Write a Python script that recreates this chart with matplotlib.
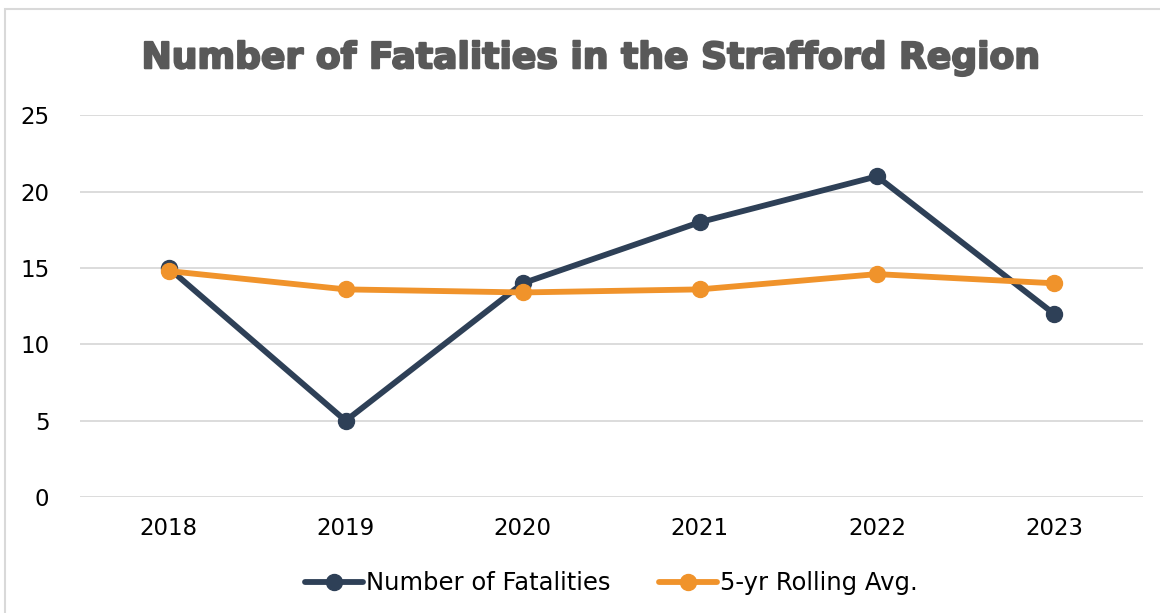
import matplotlib.pyplot as plt
from matplotlib.patches import Rectangle
import matplotlib.patheffects as pe

years = ['2018', '2019', '2020', '2021', '2022', '2023']
fatalities = [15, 5, 14, 18, 21, 12]
rolling_avg = [14.8, 13.6, 13.4, 13.6, 14.6, 14.0]

navy = '#2e4057'
orange = '#f0932b'

fig = plt.figure(figsize=(11.6, 6.13), dpi=100)
ax = fig.add_axes([0.069, 0.189, 0.916, 0.623])

x = range(len(years))
ax.plot(x, fatalities, color=navy, lw=4.2, marker='o', ms=11.5,
        label='Number of Fatalities', solid_capstyle='round')
ax.plot(x, rolling_avg, color=orange, lw=4.2, marker='o', ms=11.5,
        label='5-yr Rolling Avg.', solid_capstyle='round')

ax.set_xlim(-0.5, 5.5)
ax.set_ylim(0, 25)
ax.set_yticks([0, 5, 10, 15, 20, 25])
ax.set_xticks(list(x))
ax.set_xticklabels(years)
ax.tick_params(length=0, labelsize=16.5, pad=14)
ax.tick_params(axis='y', pad=22)
ax.grid(axis='y', color='#d9d9d9', lw=1.3)
ax.set_axisbelow(True)
for s in ax.spines.values():
    s.set_visible(False)

fig.text(0.51, 0.905, 'Number of Fatalities in the Strafford Region',
         ha='center', va='center', fontsize=26, fontweight='heavy',
         color='#595959',
         path_effects=[pe.withStroke(linewidth=1.5, foreground='#595959')])

ax.legend(loc='center', bbox_to_anchor=(0.5, -0.225), ncol=2,
          frameon=False, fontsize=17.5, handlelength=2.4, columnspacing=2.0,
          handletextpad=0.1)

fig.patches.append(Rectangle((0.004, -0.01), 1.0, 0.995, transform=fig.transFigure,
                             fill=False, edgecolor='#d9d9d9', lw=1.5))

plt.savefig('out.png')
